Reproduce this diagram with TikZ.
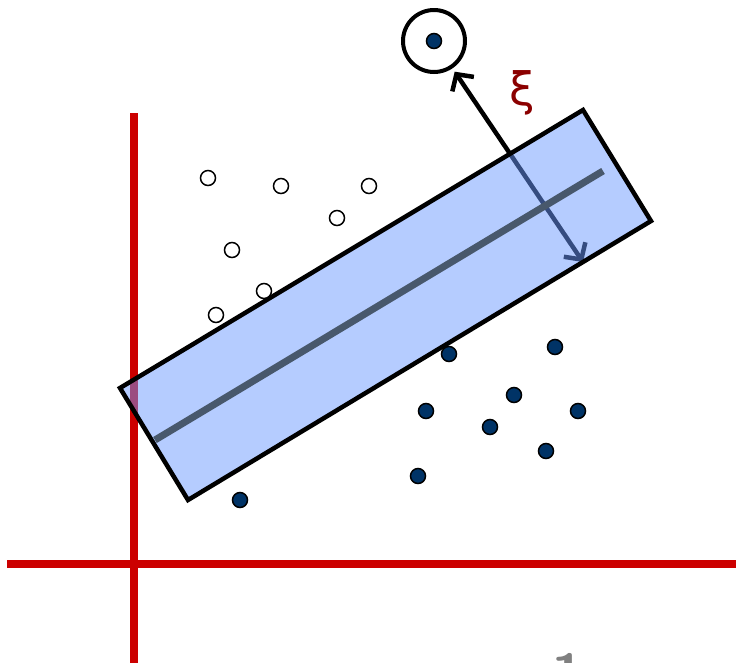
\documentclass[tikz,border=0pt]{standalone}
\usepackage{fontspec}
\usetikzlibrary{arrows.meta}
\newfontfamily\symfont{DejaVu Sans}
\definecolor{axisred}{RGB}{204,0,0}
\definecolor{boxblue}{RGB}{107,153,255}
\definecolor{dotnavy}{RGB}{0,51,102}
\definecolor{midslate}{RGB}{72,88,108}
\definecolor{xired}{RGB}{139,0,0}

\begin{document}
\begin{tikzpicture}[x=1pt,y=-1pt,
      axis/.style={draw=axisred,line width=8pt},
      opendot/.style={circle,draw=black,fill=white,line width=1.5pt,minimum size=15pt,inner sep=0pt},
      fulldot/.style={opendot,fill=dotnavy},
      ring/.style={circle,draw=black,line width=4pt,minimum size=62pt,inner sep=0pt},
      a/.style={{Straight Barb[length=12pt,width=26pt]}-{Straight Barb[length=12pt,width=26pt]},line width=4.5pt,line cap=round,draw=black}]
    \useasboundingbox (0,0) rectangle (736,662);
    % axes
    \draw[axis] (134,113) -- (134,670);
    \draw[axis] (7,564) -- (745,564);
    \node[text=gray,font=\fontsize{56}{56}\selectfont\sffamily\bfseries,anchor=north,inner sep=0pt] (tick) at (568,653) {1};
    % support vector outside the margin
    \node[fulldot] (sv) at (434,41) {};
    \node[ring] (ring) at (sv) {};
    \coordinate (foot) at (583,262);
    \draw[a,shorten <=4pt] (ring) -- (foot);
    \node[text=xired,font=\fontsize{46}{46}\selectfont\symfont] (xi) at (522,93) {ξ};
    % margin band
    \coordinate (c1) at (120,388); \coordinate (c2) at (583,110);
    \coordinate (c3) at (651,221); \coordinate (c4) at (188,500);
    \fill[boxblue,fill opacity=0.5] (c1) -- (c2) -- (c3) -- (c4) -- cycle;
    \draw[line width=4.5pt,line join=miter] (c1) -- (c2) -- (c3) -- (c4) -- cycle;
    \draw[midslate,line width=7pt] (155,440) -- (603,171);
    % class one
    \foreach \n/\p in {1/{208,178},2/{281,186},3/{369,186},4/{337,218},5/{232,250},6/{264,291},7/{216,315}}
      \node[opendot] (o\n) at (\p) {};
    % class two
    \foreach \n/\p in {1/{449,354},2/{555,347},3/{514,395},4/{426,411},5/{578,411},6/{490,427},7/{546,451},8/{418,476},9/{240,500}}
      \node[fulldot] (f\n) at (\p) {};
\end{tikzpicture}
\end{document}
